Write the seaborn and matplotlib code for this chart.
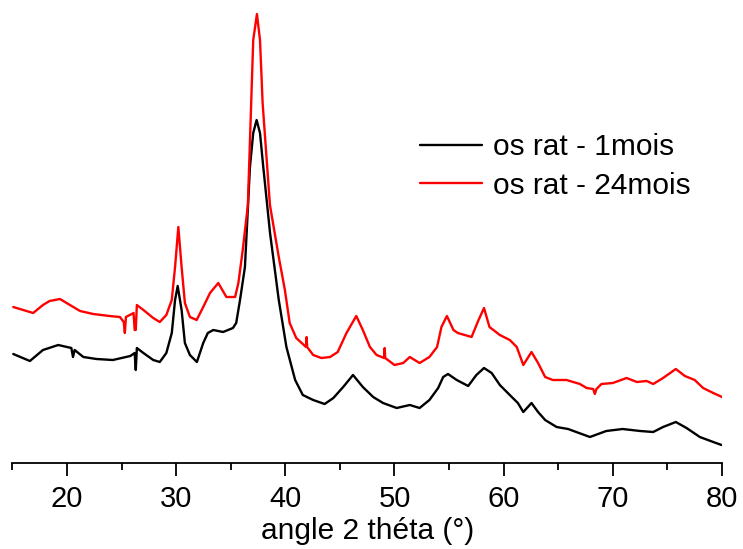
import numpy as np
import pandas as pd
import matplotlib
matplotlib.use("Agg")
import matplotlib.pyplot as plt
import seaborn as sns
from matplotlib.ticker import MultipleLocator

# angle 2 theta (deg) and intensity (arbitrary units)
theta_1 = [15.08, 16.6, 17.8, 19.2, 20.4, 20.55, 20.7, 21.5, 22.7, 24.2, 25.8, 26.2,
           26.3, 26.4, 27.0, 27.9, 28.5, 29.1, 29.6, 29.9, 30.14, 30.5, 30.8, 31.26,
           31.9, 32.48, 32.9, 33.4, 34.3, 35.2, 35.5, 35.85, 36.3, 36.76, 37.06, 37.37,
           37.68, 37.98, 38.6, 39.4, 40.1, 40.9, 41.6, 42.55, 43.6, 44.4, 45.3, 46.2,
           47.1, 48.05, 48.95, 50.2, 51.4, 52.3, 53.2, 54.0, 54.46, 54.9, 55.7, 56.75,
           57.5, 58.2, 58.9, 59.65, 60.56, 61.3, 61.8, 62.55, 63.15, 63.8, 64.85, 65.9,
           66.4, 67.9, 69.4, 70.9, 72.5, 73.7, 74.6, 75.77, 76.75, 77.97, 79.2, 79.96]
int_1 = [109, 102, 113, 118, 115, 106, 113, 106, 104, 103, 107, 110,
         93, 115, 110, 103, 101, 110, 130, 163, 177, 153, 120, 108,
         101, 120, 130, 133, 131, 135, 140, 163, 196, 296, 330, 343,
         330, 296, 230, 163, 116, 83, 68, 63, 59, 65, 76, 88,
         76, 66, 60, 55, 58, 55, 63, 75, 86, 89, 83, 77,
         88, 95, 90, 78, 68, 60, 51, 60, 51, 43, 36, 34,
         32, 26, 32, 34, 32, 31, 36, 41, 35, 26, 21, 18]

theta_24 = [15.08, 16.9, 17.8, 18.4, 19.36, 20.27, 21.2, 22.4, 23.9, 24.85, 25.2, 25.3,
            25.4, 26.1, 26.2, 26.3, 26.4, 27.0, 27.9, 28.5, 29.1, 29.6, 29.9, 30.2,
            30.5, 30.8, 31.26, 31.88, 32.48, 33.1, 33.86, 34.6, 35.4, 35.7, 36.1, 36.57,
            37.06, 37.4, 37.68, 37.92, 38.59, 39.4, 39.96, 40.4, 41.0, 41.9, 41.95, 42.0,
            42.55, 43.3, 44.1, 44.8, 45.6, 46.5, 47.1, 47.75, 48.36, 49.05, 49.1, 49.15,
            50.0, 50.8, 51.4, 52.3, 53.2, 53.9, 54.3, 54.8, 55.4, 55.8, 57.06, 57.7,
            58.2, 58.7, 59.65, 60.56, 61.2, 61.8, 62.55, 63.15, 63.8, 64.5, 65.76, 66.98,
            67.6, 68.2, 68.35, 68.5, 68.96, 70.0, 71.26, 72.2, 73.1, 73.7, 74.6, 75.77,
            76.6, 77.5, 78.27, 79.2, 80.0]
int_24 = [156, 150, 158, 162, 164, 158, 152, 149, 147, 146, 141, 130,
          146, 150, 133, 133, 158, 153, 145, 141, 148, 163, 196, 236,
          196, 160, 146, 143, 156, 170, 180, 166, 166, 180, 213, 258,
          423, 449, 423, 360, 258, 206, 173, 140, 125, 116, 126, 116,
          108, 105, 106, 111, 130, 147, 133, 116, 108, 105, 115, 105,
          98, 100, 106, 100, 106, 116, 136, 147, 133, 130, 126, 143,
          155, 136, 128, 123, 116, 98, 111, 100, 86, 83, 83, 79,
          75, 74, 69, 74, 79, 80, 85, 81, 82, 79, 85, 94,
          87, 83, 75, 70, 66]

series_labels = ["os rat - 1mois", "os rat - 24mois"]
x_label = "angle 2 théta (°)"

df = pd.concat([
    pd.DataFrame({"theta": theta_1, "intensity": int_1, "sample": series_labels[0]}),
    pd.DataFrame({"theta": theta_24, "intensity": int_24, "sample": series_labels[1]}),
])

sns.set_style("white")
plt.rcParams["font.family"] = ["Liberation Sans", "DejaVu Sans"]
plt.rcParams["text.color"] = "black"
plt.rcParams["axes.labelcolor"] = "black"
plt.rcParams["xtick.color"] = "black"

fig = plt.figure(figsize=(7.43, 5.49), dpi=100)
ax = fig.add_axes([12.4 / 743, 86 / 549, (722 - 12.4) / 743, 1 - 86 / 549])

sns.lineplot(data=df, x="theta", y="intensity", hue="sample",
             palette=["black", "red"], linewidth=1.7, ax=ax, sort=False,
             estimator=None)

ax.set_xlim(15, 80)
ax.set_ylim(0, 463)
ax.xaxis.set_major_locator(MultipleLocator(10))
ax.xaxis.set_minor_locator(MultipleLocator(5))
ax.tick_params(axis="x", which="major", direction="out", length=9, width=1.3,
               labelsize=21, bottom=True, pad=7)
ax.tick_params(axis="x", which="minor", direction="out", length=5, width=1.3,
               bottom=True)
ax.set_yticks([])
ax.set_ylabel("")
ax.set_xlabel(x_label, fontsize=21.5, labelpad=3)
for s in ["top", "left", "right"]:
    ax.spines[s].set_visible(False)
ax.spines["bottom"].set_color("black")
ax.spines["bottom"].set_linewidth(1.3)

ax.legend(loc="upper left", bbox_to_anchor=(0.536, 0.77), frameon=False,
          fontsize=21.5, handlelength=2.1, handletextpad=0.35, labelspacing=0.35)

fig.savefig("out.png", dpi=100)
